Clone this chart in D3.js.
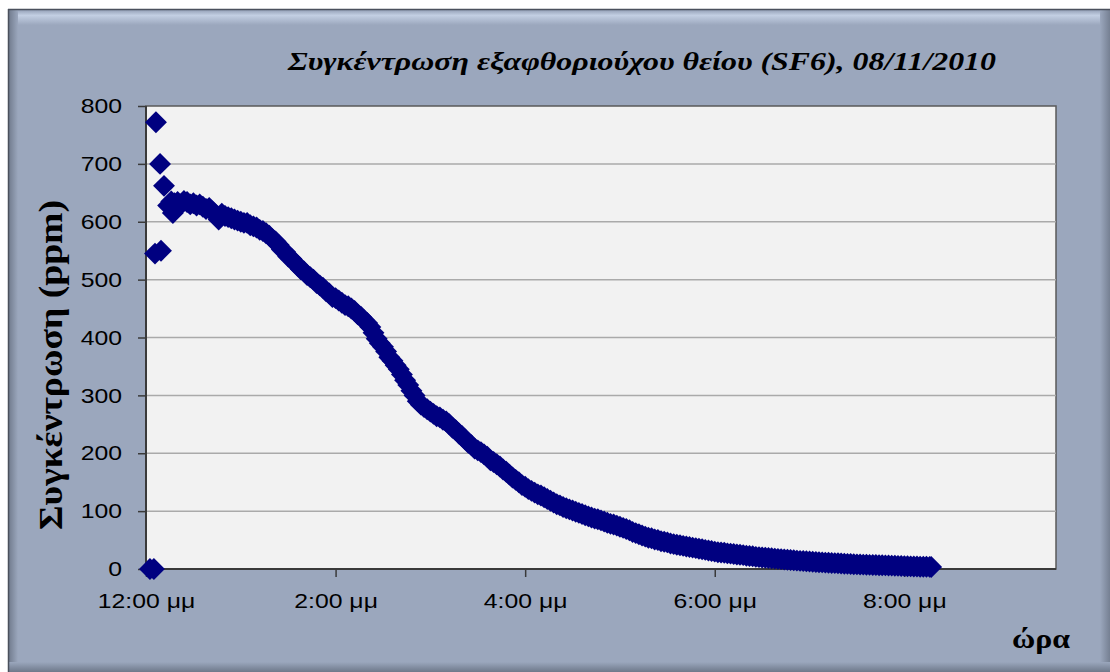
<!DOCTYPE html>
<html>
<head>
<meta charset="utf-8">
<script src="https://cdn.jsdelivr.net/npm/d3@7/dist/d3.min.js"></script>
<style>
  body { margin: 0; background: #fff; }
  svg { display: block; }
</style>
</head>
<body>
<svg width="1110" height="672"></svg>
<script>
// minutes after 12:00 pm and SF6 concentration (ppm)
var minutes = [2.5, 5, 5.7, 6.3, 8.9, 9.5, 11.4, 14, 16, 17,
  18, 20, 22, 24, 26, 28, 30, 32, 34, 36, 38, 40, 42, 44, 46, 48,
  50, 52, 54, 56, 58, 60, 62, 64, 66, 68, 70, 72, 74, 76, 78,
  80, 82, 84, 86, 88, 90, 92, 94, 96, 98, 100, 102, 104, 106, 108,
  110, 112, 114, 116, 118, 120, 122, 124, 126, 128, 130, 132, 134, 136, 138,
  140, 142, 144, 146, 148, 150, 152, 154, 156, 158, 160, 162, 164, 166, 168,
  170, 172, 174, 176, 178, 180, 182, 184, 186, 188, 190, 192, 194, 196, 198,
  200, 202, 204, 206, 208, 210, 212, 214, 216, 218, 220, 222, 224, 226, 228,
  230, 232, 234, 236, 238, 240, 242, 244, 246, 248, 250, 252, 254, 256, 258,
  260, 262, 264, 266, 268, 270, 272, 274, 276, 278, 280, 282, 284, 286, 288,
  290, 292, 294, 296, 298, 300, 302, 304, 306, 308, 310, 312, 314, 316, 318,
  320, 322, 324, 326, 328, 330, 332, 334, 336, 338, 340, 342, 344, 346, 348,
  350, 352, 354, 356, 358, 360, 362, 364, 366, 368, 370, 372, 374, 376, 378,
  380, 382, 384, 386, 388, 390, 392, 394, 396, 398, 400, 402, 404, 406, 408,
  410, 412, 414, 416, 418, 420, 422, 424, 426, 428, 430, 432, 434, 436, 438,
  440, 442, 444, 446, 448, 450, 452, 454, 456, 458, 460, 462, 464, 466, 468,
  470, 472, 474, 476, 478, 480, 482, 484, 486, 488, 490, 492, 494, 496, 497];
var ppm = [0, 0, 545, 772, 700, 550, 662, 628, 635, 615,
  632, 634, 630, 636, 634, 630, 632, 628, 630, 626, 622, 624, 618, 612, 604, 614,
  610, 608, 606, 604, 602, 600, 598, 598, 594, 592, 590, 586, 584, 580, 576,
  570, 566, 560, 552, 548, 540, 536, 530, 524, 518, 514, 508, 504, 500, 494,
  490, 486, 480, 476, 470, 468, 464, 460, 456, 454, 450, 446, 440, 436, 430,
  425, 418, 408, 398, 390, 384, 376, 366, 360, 352, 345, 336, 326, 318, 308,
  300, 290, 284, 280, 276, 272, 268, 264, 262, 258, 255, 250, 244, 240, 234,
  230, 224, 218, 214, 208, 205, 202, 198, 194, 188, 185, 181, 177, 172, 168,
  163, 158, 154, 150, 145, 142, 138, 135, 132, 129, 127, 124, 121, 118, 115,
  112, 110, 107, 105, 103, 101, 99, 97, 95, 93, 91, 89, 87, 86, 84,
  82, 80, 78, 77, 75, 73, 71, 69, 67, 64, 62, 60, 58, 56, 54,
  53, 51, 50, 48, 47, 46, 44, 43, 42, 41, 40, 39, 38, 37, 36,
  35, 34, 33, 32, 31, 30, 29, 28.5, 28, 27, 26.5, 26, 25, 24.5, 24,
  23, 22.5, 22, 21, 20.5, 20, 19.5, 19, 18.5, 18, 17.5, 17, 16.5, 16, 15.5,
  15, 14.5, 14, 13.7, 13.3, 13, 12.6, 12.2, 11.8, 11.4, 11, 10.7, 10.4, 10.1, 9.8,
  9.5, 9.2, 8.9, 8.6, 8.3, 8, 7.8, 7.6, 7.4, 7.2, 7, 6.8, 6.6, 6.4, 6.2,
  6, 5.8, 5.6, 5.4, 5.2, 5, 4.8, 4.6, 4.4, 4.2, 4, 3.9, 3.8, 3.6, 3.5];

var xTicks = [0, 2, 4, 6, 8];
var xTickLabels = ['12:00 μμ', '2:00 μμ', '4:00 μμ', '6:00 μμ', '8:00 μμ'];
var yTicks = [0, 100, 200, 300, 400, 500, 600, 700, 800];

var title = 'Συγκέντρωση εξαφθοριούχου θείου (SF6), 08/11/2010';
var yTitle = 'Συγκέντρωση (ppm)';
var xTitle = 'ώρα';

var svg = d3.select('svg');

var defs = svg.append('defs');
function grad(id, horizontal, stops) {
  var g = defs.append('linearGradient').attr('id', id)
    .attr('x1', 0).attr('y1', 0)
    .attr('x2', horizontal ? 1 : 0).attr('y2', horizontal ? 0 : 1);
  stops.forEach(function (s) {
    g.append('stop').attr('offset', s[0]).attr('stop-color', s[1]);
  });
}
grad('topBevel', false, [['0%', '#8d99b0'], ['40%', '#c3cfe3'], ['100%', '#9ba7bd']]);
grad('rightBevel', true, [['0%', '#9ba7bd'], ['100%', '#6e788a']]);
grad('leftBevel', true, [['0%', '#6e788a'], ['100%', '#9ba7bd']]);
grad('botBevel', false, [['0%', '#9ba7bd'], ['100%', '#6e788a']]);

// chart frame
svg.append('rect').attr('x', 8).attr('y', 9).attr('width', 1104).attr('height', 662)
  .attr('fill', '#9ba7bd');
svg.append('rect').attr('x', 8).attr('y', 9).attr('width', 1104).attr('height', 16)
  .attr('fill', 'url(#topBevel)');
svg.append('rect').attr('x', 8).attr('y', 9).attr('width', 10).attr('height', 662)
  .attr('fill', 'url(#leftBevel)');
svg.append('rect').attr('x', 1100).attr('y', 9).attr('width', 12).attr('height', 662)
  .attr('fill', 'url(#rightBevel)');
svg.append('rect').attr('x', 8).attr('y', 662).attr('width', 1104).attr('height', 10)
  .attr('fill', 'url(#botBevel)');
svg.append('line').attr('x1', 8).attr('x2', 1110).attr('y1', 9.5).attr('y2', 9.5)
  .attr('stroke', '#4a505c').attr('stroke-width', 1.5);
svg.append('line').attr('x1', 8.5).attr('x2', 8.5).attr('y1', 9).attr('y2', 672)
  .attr('stroke', '#4a505c').attr('stroke-width', 1.5);

var plotLeft = 146, plotRight = 1056, plotTop = 106, plotBottom = 569;

var x = d3.scaleLinear().domain([0, 9.6]).range([plotLeft, plotRight]);
var y = d3.scaleLinear().domain([0, 800]).range([plotBottom, plotTop]);

// plot area
svg.append('rect').attr('x', plotLeft).attr('y', plotTop)
  .attr('width', plotRight - plotLeft).attr('height', plotBottom - plotTop)
  .attr('fill', '#f2f2f2').attr('stroke', '#5a5a5a').attr('stroke-width', 1.5);

// gridlines
svg.append('g')
  .selectAll('line')
  .data(yTicks.filter(function (d) { return d > 0 && d < 800; }))
  .enter()
  .append('line')
  .attr('x1', plotLeft).attr('x2', plotRight)
  .attr('y1', function (d) { return y(d); })
  .attr('y2', function (d) { return y(d); })
  .attr('stroke', '#aaaaaa').attr('stroke-width', 1.5);

// axes
var yAxis = svg.append('g')
  .attr('transform', 'translate(' + plotLeft + ',0)')
  .call(d3.axisLeft(y).tickValues(yTicks).tickSize(8).tickPadding(16));
var xAxis = svg.append('g')
  .attr('transform', 'translate(0,' + plotBottom + ')')
  .call(d3.axisBottom(x).tickValues(xTicks).tickSize(8).tickPadding(16)
    .tickFormat(function (d, i) { return xTickLabels[i]; }));

[yAxis, xAxis].forEach(function (g) {
  g.select('.domain').attr('stroke', '#3a3a3a').attr('stroke-width', 2);
  g.selectAll('.tick line').attr('stroke', '#3a3a3a').attr('stroke-width', 1.5);
  g.selectAll('.tick text')
    .attr('fill', '#000')
    .style('font-family', '"Liberation Sans", Arial, sans-serif')
    .style('font-size', '21px')
    .each(function () {
      var w = this.getComputedTextLength();
      d3.select(this).attr('textLength', w * 1.18).attr('lengthAdjust', 'spacingAndGlyphs');
    });
});
xAxis.select('.domain').attr('d', 'M' + plotLeft + ',0H' + plotRight);
yAxis.select('.domain').attr('d', 'M0,' + plotBottom + 'V' + plotTop);

// points
var diamond = d3.symbol().type(d3.symbolSquare).size(240);
svg.append('g')
  .selectAll('path')
  .data(minutes)
  .enter()
  .append('path')
  .attr('d', diamond)
  .attr('fill', '#000080')
  .attr('transform', function (d, i) {
    return 'translate(' + x(d / 60) + ',' + y(ppm[i]) + ') rotate(45)';
  });

// titles
svg.append('text')
  .attr('x', 642).attr('y', 70)
  .attr('text-anchor', 'middle')
  .attr('textLength', 708).attr('lengthAdjust', 'spacingAndGlyphs')
  .style('font-family', '"Liberation Serif", "Times New Roman", serif')
  .style('font-style', 'italic').style('font-weight', 'bold')
  .style('font-size', '26px')
  .text(title);

svg.append('text')
  .attr('transform', 'translate(62,365) rotate(-90)')
  .attr('text-anchor', 'middle')
  .attr('textLength', 330).attr('lengthAdjust', 'spacingAndGlyphs')
  .style('font-family', '"Liberation Serif", "Times New Roman", serif')
  .style('font-weight', 'bold')
  .style('font-size', '33px')
  .text(yTitle);

svg.append('text')
  .attr('x', 1070).attr('y', 648)
  .attr('text-anchor', 'end')
  .attr('textLength', 58).attr('lengthAdjust', 'spacingAndGlyphs')
  .style('font-family', '"Liberation Serif", "Times New Roman", serif')
  .style('font-weight', 'bold')
  .style('font-size', '27px')
  .text(xTitle);
</script>
</body>
</html>
